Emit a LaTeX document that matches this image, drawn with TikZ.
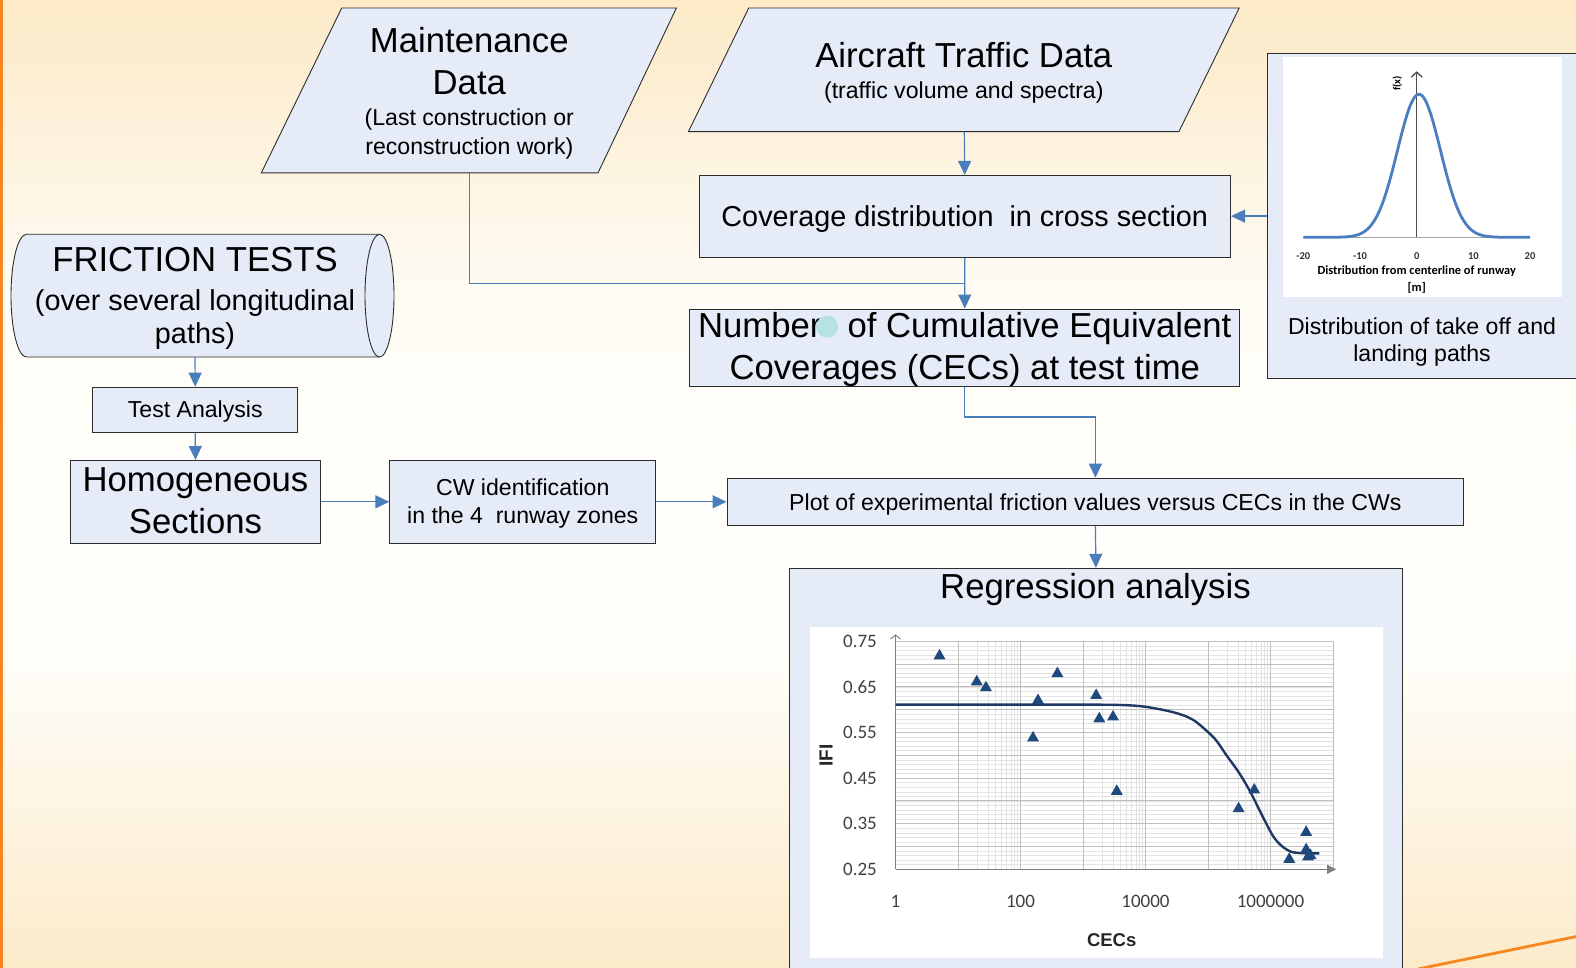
\documentclass[tikz,border=0pt]{standalone}
\usepackage{fontspec}
\setmainfont{Liberation Sans}
\newfontfamily\carlito{Carlito}
\usetikzlibrary{arrows.meta}
\definecolor{boxfill}{RGB}{229,236,247}
\definecolor{boxline}{RGB}{45,45,45}
\definecolor{conn}{RGB}{74,126,187}
\definecolor{bgtop}{RGB}{252,234,200}
\definecolor{bgmid}{RGB}{255,254,250}
\definecolor{accent}{RGB}{247,134,32}
\definecolor{dotc}{RGB}{183,226,226}
\definecolor{curveblue}{RGB}{74,126,193}
\definecolor{navy}{RGB}{31,56,100}
\definecolor{markc}{RGB}{31,73,125}
\newcommand\topst{\rule{0pt}{0.97em}}
\newcommand\botst{\rule[-0.25em]{0pt}{0.25em}}
\newcommand\bothst{\rule[-0.25em]{0pt}{1.22em}}
\newcommand\fbig{\fontsize{34.7}{42.2}\selectfont}
\newcommand\fmid{\fontsize{28.8}{33}\selectfont}
\newcommand\fsmall{\fontsize{23.1}{28.2}\selectfont}
\tikzset{
  box/.style={draw=boxline, fill=boxfill, line width=0.9pt, inner sep=0pt, align=center, anchor=north west},
  shapeline/.style={draw=boxline, fill=boxfill, line width=0.9pt},
  txt/.style={inner sep=0pt, align=center},
  link/.style={draw=conn, line width=1.2pt},
  arr/.style={link, -{Triangle[length=14pt,width=13pt]}},
  gminor/.style={draw=gray!22, line width=0.5pt},
  gmajor/.style={draw=gray!50, line width=0.8pt},
  ticklab/.style={inner sep=0pt, font=\carlito\fontsize{19}{21}\selectfont, text=black!75},
  dticklab/.style={inner sep=0pt, font=\carlito\bfseries\fontsize{10.5}{12}\selectfont, text=black!80},
}
\begin{document}
\begin{tikzpicture}[x=1pt,y=-1pt]
\useasboundingbox (0,0) rectangle (1576,968);
\clip (0,0) rectangle (1576,968);
% background gradient
\foreach \i in {0,...,193} {
  \pgfmathsetmacro\yy{\i*5}
  \pgfmathtruncatemacro\pp{\yy<300 ? \yy/300*90 : (\yy<450 ? 90+(\yy-300)/150*10 : (\yy<650 ? 100 : 100-(\yy-650)/318*95))}
  \fill[bgmid!\pp!bgtop] (0,\yy) rectangle (1576,\yy+5.6);
}
\fill[accent] (0,0) rectangle (3,968);
\draw[accent, line width=2.8pt] (1418,969) -- (1578,936.2);

% Maintenance data
\draw[shapeline] (341.7,8) -- (676.4,8) -- (598,172.9) -- (261.3,172.9) -- cycle;
\node[txt, font=\fbig] (mainttitle) at (469.3,61.3) {\topst Maintenance\\Data\botst};
\node[txt, font=\fsmall] (maintsub) at (469.3,131.65) {\topst(Last construction or\\reconstruction work)\botst};
\coordinate (maintb) at (469.3,172.9);

% Aircraft traffic data
\draw[shapeline] (748.7,8) -- (1239.2,8) -- (1178.9,131.7) -- (688.4,131.7) -- cycle;
\node[txt, font=\fbig] (airtitle) at (963.8,55.3) {\bothst Aircraft Traffic Data};
\node[txt, font=\fsmall] (airsub) at (963.8,90.5) {\bothst(traffic volume and spectra)};
\coordinate (airb) at (964.3,131.7);

% Coverage distribution
\node[box, font=\fmid, minimum width=531.6pt, minimum height=82.4pt] (cov) at (698.5,174.9)
  {\bothst Coverage distribution\ \ in cross section};

% CEC box
\node[box, minimum width=549.8pt, minimum height=77.4pt] (cec) at (689.4,308.5) {};
\node[txt, font=\fbig, yshift=1.5pt] (cectext) at (cec.center)
  {\topst Number\hspace{0.75em}of Cumulative Equivalent\\Coverages (CECs) at test time\botst};
\node[circle, fill=dotc, inner sep=0pt, minimum size=22pt] (dot) at (827.1,326.6) {};

% right panel
\node[box, minimum width=330pt, minimum height=324.7pt] (panel) at (1267.3,53.3) {};
\fill[white] (1282.7,57.3) rectangle (1561.7,296.7);
\node[txt, font=\fontsize{23.1}{26.5}\selectfont] (panelcap) at (1422,339.5) {\topst Distribution of take off and\\landing paths\botst};
\begin{scope}[shift={(1416.7,237.3)}, x=5.667pt, y=1pt]
  \draw[gray!70, line width=1pt] (-20,0) -- (20,0);
  \draw[gray!60!black, line width=1.3pt, -{Straight Barb[length=5pt,width=11pt]}] (0,0) -- (0,166);
  \draw[curveblue, line width=2.8pt, line join=round] plot[domain=-20:20, samples=161, smooth] (\x,{143*exp(-((\x-0.4)^2)/28.88)});
  \foreach \v in {-20,-10,0,10,20} \node[dticklab] (dt\v) at (\v,-18.4) {\v};
\end{scope}
\node[inner sep=0pt, font=\carlito\bfseries\fontsize{12.4}{14}\selectfont] (dxlab) at (1416.7,271) {Distribution from centerline of runway};
\node[inner sep=0pt, font=\carlito\bfseries\fontsize{12.4}{14}\selectfont] (dxunit) at (1416.7,288.3) {[m]};
\node[inner sep=0pt, rotate=90, font=\carlito\bfseries\fontsize{10.5}{12}\selectfont] (dylab) at (1397.3,83.3) {f(x)};

% friction tests cylinder
\draw[shapeline] (26.5,234.3) -- (379.5,234.3)
  arc[start angle=-90, end angle=90, x radius=14.5, y radius=61.35]
  -- (26.5,357)
  arc[start angle=90, end angle=270, x radius=15.5, y radius=61.35] -- cycle;
\draw[draw=boxline, line width=0.9pt] (379.5,234.3) arc[start angle=-90, end angle=-270, x radius=14.5, y radius=61.35];
\node[txt, font=\fbig] (frictitle) at (195,259) {\bothst FRICTION TESTS};
\node[txt, font=\fmid] (fricsub) at (195,316.5) {\topst(over several longitudinal\\paths)\botst};
\coordinate (fricb) at (195,357);

% left chain
\node[box, font=\fsmall, minimum width=205pt, minimum height=45pt] (test) at (92.3,386.7) {\bothst Test Analysis};
\node[box, minimum width=250pt, minimum height=82.7pt] (homog) at (70,460) {};
\node[txt, font=\fbig, yshift=1.8pt] (homogtext) at (homog.center) {\topst Homogeneous\\Sections\botst};
\node[box, minimum width=266pt, minimum height=82.7pt] (cw) at (389.3,460) {};
\node[txt, font=\fsmall, yshift=0.5pt] (cwtext) at (cw.center) {\topst CW identification\\in the 4\ \ runway zones\botst};
\node[box, font=\fsmall, minimum width=736.7pt, minimum height=47.3pt] (plot) at (726.6,477.7) {\bothst Plot of experimental friction values versus CECs in the CWs};

% regression box
\node[box, minimum width=613.1pt, minimum height=420pt] (reg) at (788.9,567.8) {};
\node[txt, font=\fbig] (regtitle) at (1095.45,586) {\bothst Regression analysis};
\fill[white] (810.1,627.4) rectangle (1382.9,957.8);
\begin{scope}[shift={(895.5,869.3)}, x=62.5pt, y=456.2pt]
  \foreach \k in {1,...,49} \draw[gminor] (0,\k/100) -- (7,\k/100);
  \foreach \m in {0,2,4} \foreach \l in {0.301,0.477,0.602,0.699,0.778,0.845,0.903,0.954}
    \draw[gminor] (\m+1+\l,0) -- (\m+1+\l,0.5);
  \foreach \k in {0,...,10} \draw[gmajor] (0,\k/20) -- (7,\k/20);
  \foreach \d in {0,...,7} \draw[gmajor] (\d,0) -- (\d,0.5);
  \draw[gray, line width=1.2pt, -{Triangle[length=9pt,width=9pt]}] (0,0) -- (7.05,0);
  \draw[gray, line width=1pt, -{Straight Barb[length=4pt,width=10pt]}] (0,0) -- (0,0.515);
  \draw[navy, line width=2.4pt, line join=round] plot[smooth, tension=0.5] coordinates {
    (0,0.361) (1,0.361) (2,0.361) (3,0.361) (3.5,0.3605) (3.8,0.359) (4.01,0.356) (4.26,0.350) (4.48,0.343) (4.67,0.334) (4.83,0.321)
    (5.11,0.286) (5.30,0.249) (5.49,0.213) (5.68,0.169) (5.87,0.117) (6.04,0.073)
    (6.18,0.051) (6.34,0.038) (6.56,0.035) (6.78,0.035)};
  \foreach \a/\b in {0.704/0.468,1.30/0.411,1.447/0.398,2.20/0.288,2.28/0.370,2.59/0.429,
    3.21/0.381,3.26/0.330,3.48/0.334,3.54/0.171,5.49/0.133,5.74/0.174,6.30/0.022,
    6.57/0.081,6.57/0.043,6.60/0.027,6.64/0.030}
    \fill[markc] (\a,\b) ++(0,7pt) -- ++(-6pt,-10.5pt) -- ++(12pt,0) -- cycle;
  \foreach \v/\t in {0/0.25,0.1/0.35,0.2/0.45,0.3/0.55,0.4/0.65,0.5/0.75}
    \node[ticklab, anchor=east] (yl\t) at (-0.296,\v) {\t};
  \foreach \d/\t in {0/1,2/100,4/10000,6/1000000}
    \node[ticklab] (xl\d) at (\d,-0.0706) {\t};
\end{scope}
\node[inner sep=0pt, rotate=90, font=\bfseries\fontsize{19}{21}\selectfont, text=black!85] (ifilab) at (826,755.8) {IFI};
\node[inner sep=0pt, font=\bfseries\fontsize{18.5}{20}\selectfont, text=black!85] (ceclab) at (1111.7,939.7) {CECs};

% connectors
\draw[arr] (airb) -- (cov.north);
\draw[arr] (panel.west) -- (panel.west -| cov.east);
\draw[arr] (cov.south) -- (cec.north);
\coordinate (join) at (964.3,283.4);
\draw[link] (maintb) |- (join);
\draw[arr] (cec.south) -- ++(0,30.2) -| (plot.north);
\draw[arr] (plot.south) -- (reg.north);
\draw[arr] (fricb) -- (test.north);
\draw[arr] (test.south) -- (homog.north);
\draw[arr] (homog.east) -- (cw.west);
\draw[arr] (cw.east) -- (cw.east -| plot.west);
\end{tikzpicture}
\end{document}
